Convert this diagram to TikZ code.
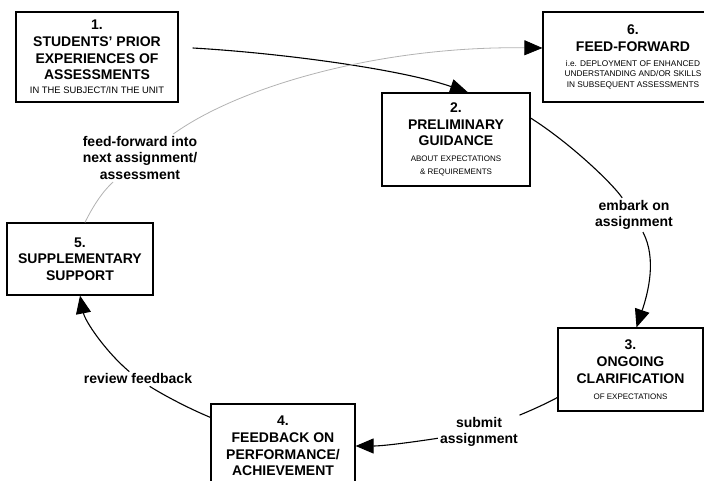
\documentclass[tikz,border=0pt]{standalone}
\usepackage{fontspec}
\setmainfont{Liberation Sans}
\usepackage{tikz}
\usetikzlibrary{arrows.meta}
\tikzset{>={Triangle[length=18pt,width=15pt]}}
\newcommand{\fine}[1]{{\fontsize{8}{10}\selectfont\mdseries #1}}

\begin{document}
\begin{tikzpicture}[x=1pt,y=1pt,
                    box/.style={draw, line width=1.2pt, align=center, inner sep=0pt,
                                font=\fontsize{14}{16.7}\selectfont\bfseries},
                    lbl/.style={align=center, inner sep=2pt,
                                font=\fontsize{14}{16.7}\selectfont\bfseries},
                    conn/.style={line width=1.1pt},
                    fwd/.style={line width=0.8pt, gray!60},
                   ]

\useasboundingbox (0,0) rectangle (704,481);
\clip (0,0) rectangle (704,481);

% stages
\node[box, minimum width=162, minimum height=90] (b1) at (97,424)
  {1.\\STUDENTS' PRIOR\\EXPERIENCES OF\\ASSESSMENTS\\[-2.7pt]{\fontsize{9.4}{11}\selectfont\mdseries IN THE SUBJECT/IN THE UNIT}};
\node[box, minimum width=148, minimum height=93] (b2) at (456,341.5)
  {2.\\PRELIMINARY\\GUIDANCE\\[-0.7pt]\fine{ABOUT EXPECTATIONS}\\[-3.7pt]\fine{\& REQUIREMENTS}};
\node[box, minimum width=145, minimum height=83] (b3) at (630.5,111.5)
  {3.\\ONGOING\\CLARIFICATION\\[-0.7pt]\fine{OF EXPECTATIONS}};
\node[box, minimum width=144, minimum height=84] (b4) at (283,35)
  {4.\\FEEDBACK ON\\PERFORMANCE/\\ACHIEVEMENT};
\node[box, minimum width=146, minimum height=72] (b5) at (80,222)
  {5.\\SUPPLEMENTARY\\SUPPORT};
\node[box, minimum width=180, minimum height=90] (b6) at (633,424)
  {6.\\FEED-FORWARD\\[-1.7pt]{\fontsize{8.3}{10}\selectfont\mdseries i.e. DEPLOYMENT OF ENHANCED}\\[-6.2pt]{\fontsize{8.3}{10}\selectfont\mdseries UNDERSTANDING AND/OR SKILLS}\\[-6.2pt]{\fontsize{8.3}{10}\selectfont\mdseries IN SUBSEQUENT ASSESSMENTS}};

% labels on the arrows
\node[lbl] (lf) at (140,323) {feed-forward into\\next assignment/\\assessment};
\node[lbl] (le) at (634,266) {embark on\\assignment};
\node[lbl] (ls) at (479,49) {submit\\assignment};
\node[lbl] (lr) at (138,102) {review feedback};

% cycle
\draw[conn,->] ([shift={(14,9)}]b1.east) .. controls (280,428) and (400,412) .. ([xshift=12]b2.north);
\draw[conn] ([yshift=21.5]b2.east) .. controls (570,338) and (612,298) .. (le);
\draw[conn,->] (le) .. controls (657,222) and (648,188) .. ([xshift=6]b3.north);
\draw[conn] ([yshift=-28]b3.west) .. controls (540,74) and (515,64) .. (ls);
\draw[conn,->] (ls) .. controls (420,40) and (385,35) .. (b4.east);
\draw[conn] ([yshift=-14]b4.north west) .. controls (190,72) and (165,85) .. (lr);
\draw[conn,->] (lr) .. controls (105,130) and (85,160) .. (b5.south);
\draw[fwd] ([xshift=5]b5.north) .. controls (93,275) and (103,290) .. (lf);
\draw[fwd,-{Triangle[length=18pt,width=15pt,color=black]}] (lf) .. controls (240,395) and (380,435) .. ([yshift=9]b6.west);

\end{tikzpicture}
\end{document}
